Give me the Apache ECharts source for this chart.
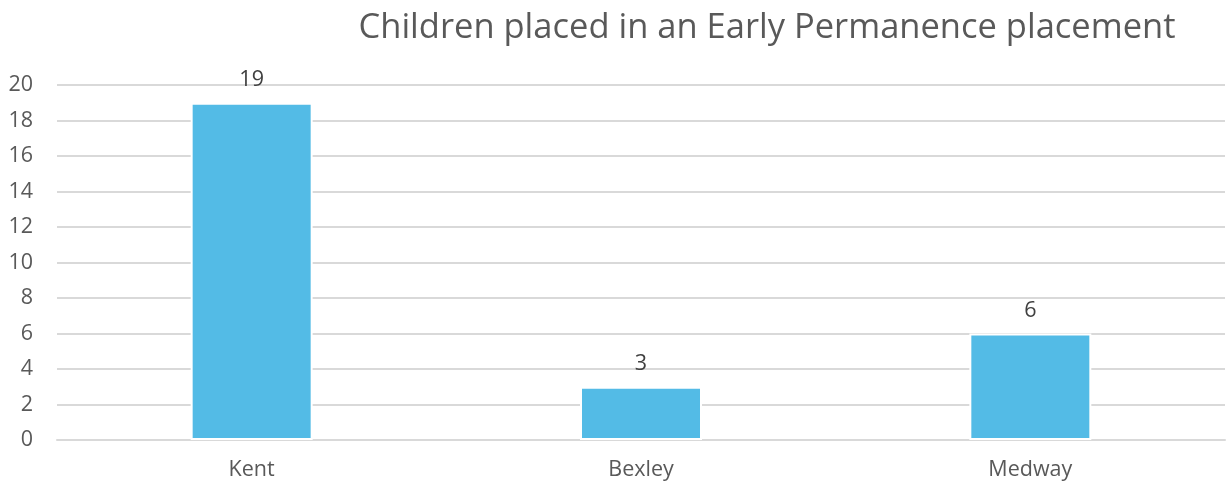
<!DOCTYPE html>
<html>
<head>
<meta charset="utf-8">
<script src="https://cdn.jsdelivr.net/npm/echarts@6/dist/echarts.min.js"></script>
<style>
  html, body { margin: 0; padding: 0; background: #fff; }
  #chart { width: 1231px; height: 485px; }
</style>
</head>
<body>
<div id="chart"></div>
<script>
// 数据
const areas = ["Kent", "Bexley", "Medway"];
const placements = [19, 3, 6];
const yTicks = [0, 2, 4, 6, 8, 10, 12, 14, 16, 18, 20];

const chart = echarts.init(document.getElementById("chart"));
chart.setOption({
  animation: false,
  title: {
    text: "Children placed in an Early Permanence placement",
    left: 762,
    textAlign: "center",
    top: 6,
    textStyle: {
      fontFamily: "Open Sans",
      fontSize: 34.5,
      fontWeight: "normal",
      color: "#595959",
    },
  },
  grid: {
    left: 57,
    right: 6,
    top: 85,
    bottom: 45,
  },
  xAxis: {
    type: "category",
    data: areas,
    axisLine: { show: true, lineStyle: { color: "#d9d9d9", width: 2 } },
    axisTick: { show: false },
    axisLabel: {
      margin: 19,
      fontFamily: "Open Sans",
      fontSize: 21.5,
      color: "#595959",
    },
  },
  yAxis: {
    type: "value",
    min: yTicks[0],
    max: yTicks[yTicks.length - 1],
    interval: 2,
    axisLine: { show: false },
    axisTick: { show: false },
    splitLine: { lineStyle: { color: "#d9d9d9", width: 2 } },
    axisLabel: {
      margin: 24,
      fontFamily: "Open Sans",
      fontSize: 21.5,
      color: "#595959",
    },
  },
  series: [
    {
      type: "bar",
      data: placements,
      barWidth: 122,
      itemStyle: {
        color: "#53bbe6",
        borderColor: "#ffffff",
        borderWidth: 2,
      },
      label: {
        show: true,
        position: "top",
        distance: 12,
        fontFamily: "Open Sans",
        fontSize: 21.5,
        color: "#404040",
      },
    },
  ],
});
</script>
</body>
</html>
